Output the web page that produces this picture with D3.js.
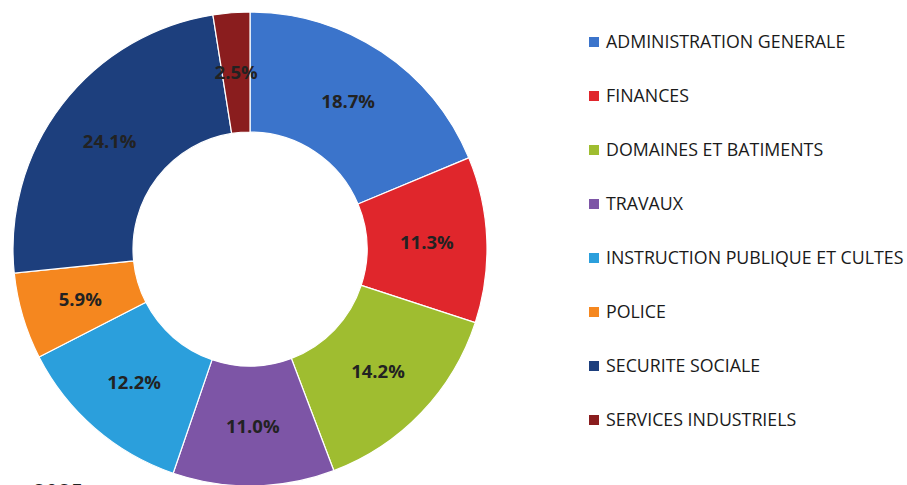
<!DOCTYPE html>
<html><head><meta charset="utf-8">
<script src="https://cdn.jsdelivr.net/npm/d3@7/dist/d3.min.js"></script>
<style>
html,body{margin:0;padding:0;background:#fff;}
svg{display:block;}
</style></head>
<body>
<svg id="chart" width="907" height="485"></svg>
<script>
const categories = ["ADMINISTRATION GENERALE","FINANCES","DOMAINES ET BATIMENTS","TRAVAUX","INSTRUCTION PUBLIQUE ET CULTES","POLICE","SECURITE SOCIALE","SERVICES INDUSTRIELS"];
const values = [18.7, 11.3, 14.2, 11.0, 12.2, 5.9, 24.1, 2.5];
const colors = ["#3b74cb","#e0262c","#9fbd30","#7d55a6","#2b9fdc","#f5871f","#1d3f7d","#8a1d1e"];

const svg = d3.select("#chart");
const cx = 250, cy = 249, rOuter = 237, rInner = 117;

const pie = d3.pie().sort(null).value(d => d.v);
const data = pie(categories.map((c,i)=>({c, v: values[i], col: colors[i]})));
const arc = d3.arc().innerRadius(rInner).outerRadius(rOuter);
const labelArc = d3.arc().innerRadius(rInner).outerRadius(rOuter);

const g = svg.append("g").attr("transform", `translate(${cx},${cy})`);
g.selectAll("path").data(data).join("path")
  .attr("d", arc)
  .attr("fill", d => d.data.col)
  .attr("stroke", "#fff")
  .attr("stroke-width", 1.2);

g.selectAll("text.lbl").data(data).join("text")
  .attr("class","lbl")
  .attr("transform", d => `translate(${labelArc.centroid(d)})`)
  .attr("text-anchor","middle")
  .attr("dy","0.36em")
  .attr("font-family","'Open Sans', sans-serif")
  .attr("font-weight","700")
  .attr("font-size","18.5px")
  .attr("fill","#222")
  .text(d => d3.format(".1f")(d.data.v) + "%");

// legend
const legend = svg.append("g");
const ly = d3.scalePoint().domain(categories).range([42, 420]);
const rows = legend.selectAll("g").data(categories).join("g")
  .attr("transform", d => `translate(589,${ly(d)})`);
rows.append("rect").attr("x",0).attr("y",-5).attr("width",10).attr("height",10)
  .attr("fill",(d,i)=>colors[i]);
rows.append("text").attr("x",17).attr("dy","0.35em")
  .attr("font-family","'Open Sans', sans-serif")
  .attr("font-size","17.8px")
  .attr("fill","#1a1a1a")
  .text(d=>d);

svg.append("text").attr("x",33).attr("y",500)
  .attr("font-family","'Open Sans', sans-serif").attr("font-size","22px")
  .attr("fill","#222").text("2025");
</script>
</body></html>
